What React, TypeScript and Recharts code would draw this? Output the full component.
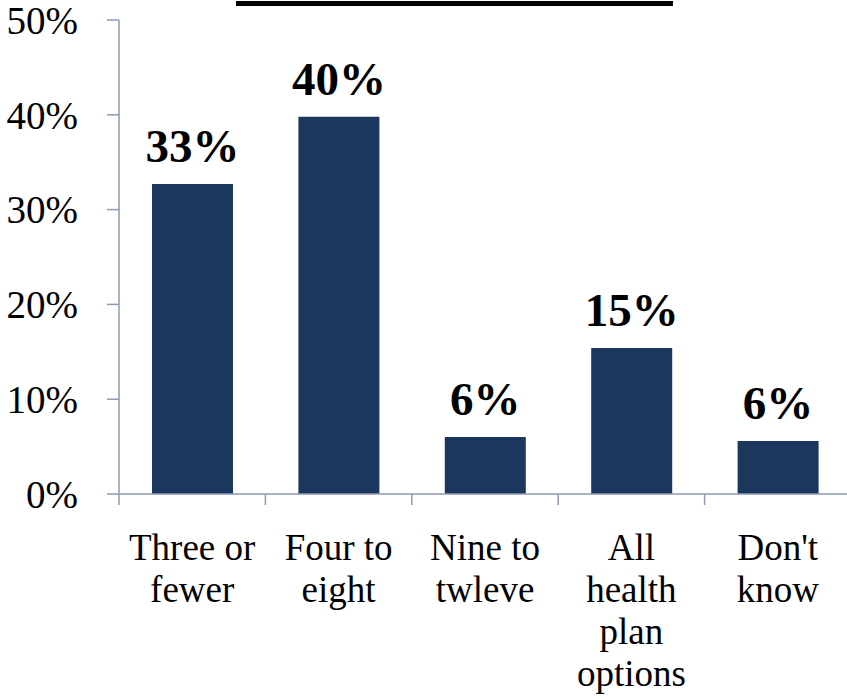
import { BarChart, Bar, XAxis, YAxis, LabelList } from "recharts";

const categories = ["Three or\nfewer", "Four to\neight", "Nine to\ntwleve", "All\nhealth\nplan\noptions", "Don't\nknow"];
const shares = [32.7, 39.8, 6.0, 15.4, 5.6];
const yTicks = [0, 10, 20, 30, 40, 50];

const data = categories.map((name, i) => ({ name, value: shares[i] }));

const CHART_W = 852;
const CHART_H = 699;
const Y_AXIS_W = 119;
const MARGIN = { top: 20, right: 1, left: 0, bottom: 0 };
const STEP = (CHART_W - MARGIN.left - MARGIN.right - Y_AXIS_W) / categories.length;

const FONT = "Liberation Serif, Times New Roman, Tinos, DejaVu Serif, serif";
const AXIS_COLOR = "#8e9ab5";
const BAR_COLOR = "#1c375e";

// category labels sit between boundary ticks, like the spreadsheet original
function CategoryTick(props: any) {
  const { x, y, payload } = props;
  const lines = String(payload.value).split("\n");
  const left = x - STEP / 2;
  return (
    <g>
      <line x1={left} y1={y} x2={left} y2={y + 11} stroke={AXIS_COLOR} strokeWidth={1.5} />
      <text
        x={x}
        y={y + 66}
        textAnchor="middle"
        style={{ fontSize: 37, fontFamily: FONT }}
        fill="#000"
      >
        {lines.map((l, i) => (
          <tspan key={i} x={x} dy={i === 0 ? 0 : 42}>
            {l}
          </tspan>
        ))}
      </text>
    </g>
  );
}

export default function App() {
  return (
    <div
      style={{
        position: "absolute",
        left: 0,
        top: 0,
        width: 847,
        height: 699,
        overflow: "hidden",
        background: "#fff",
        fontFamily: FONT,
      }}
    >
      <div
        style={{ position: "absolute", left: 236, top: 1, width: 437, height: 5, background: "#000" }}
      />
      <BarChart width={CHART_W} height={CHART_H} data={data} margin={MARGIN} barSize={81} style={{ fontFamily: FONT }}>
        <XAxis
          dataKey="name"
          interval={0}
          height={CHART_H - 494}
          tickLine={false}
          tickSize={0}
          tickMargin={0}
          axisLine={{ stroke: AXIS_COLOR, strokeWidth: 1.5 }}
          tick={<CategoryTick />}
        />
        <YAxis
          width={Y_AXIS_W}
          domain={[0, 50]}
          ticks={yTicks}
          interval={0}
          tickFormatter={(v: number) => `${v}%`}
          tickSize={12}
          tickMargin={29}
          axisLine={{ stroke: AXIS_COLOR, strokeWidth: 1.5 }}
          tickLine={{ stroke: AXIS_COLOR, strokeWidth: 1.5 }}
          tick={{ fontSize: 39, fill: "#000", style: { fontFamily: FONT } }}
        />
        <Bar dataKey="value" fill={BAR_COLOR} isAnimationActive={false}>
          <LabelList
            dataKey="value"
            position="top"
            offset={22}
            formatter={(v: any) => `${Math.round(Number(v))}%`}
            style={{ fontSize: 47, fontWeight: "bold", fontFamily: FONT, fill: "#000" }}
          />
        </Bar>
      </BarChart>
    </div>
  );
}
